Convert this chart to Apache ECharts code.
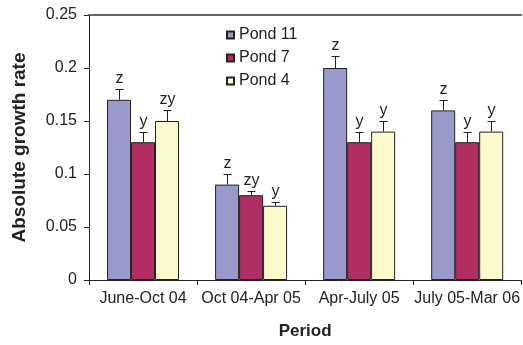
<!DOCTYPE html>
<html><head><meta charset="utf-8">
<script src="https://cdn.jsdelivr.net/npm/echarts@6/dist/echarts.min.js"></script>
<style>html,body{margin:0;padding:0;background:#fff}#c{width:523px;height:345px}</style>
</head><body><div id="c"></div>
<script>
const categories = ['June-Oct 04', 'Oct 04-Apr 05', 'Apr-July 05', 'July 05-Mar 06'];
const seriesNames = ['Pond 11', 'Pond 7', 'Pond 4'];
const pond11 = [0.17, 0.09, 0.20, 0.16];
const pond7 = [0.13, 0.08, 0.13, 0.13];
const pond4 = [0.15, 0.07, 0.14, 0.14];
const pond11Err = [0.01, 0.01, 0.011, 0.01];
const pond7Err = [0.01, 0.004, 0.01, 0.01];
const pond4Err = [0.01, 0.004, 0.01, 0.01];
const pond11Letters = ['z', 'z', 'z', 'z'];
const pond7Letters = ['y', 'zy', 'y', 'y'];
const pond4Letters = ['zy', 'y', 'y', 'y'];
const colors = ['#9999cc', '#b02e63', '#fcf9cd'];
const values = [pond11, pond7, pond4];
const errs = [pond11Err, pond7Err, pond4Err];
const letters = [pond11Letters, pond7Letters, pond4Letters];
const BW = 24;
const font = '"Liberation Sans", Arial, sans-serif';
const txt = '#222';

const chart = echarts.init(document.getElementById('c'));
const series = [];
values.forEach((v, i) => {
  series.push({
    name: seriesNames[i], type: 'bar', data: v, barWidth: BW, barGap: '0%',
    itemStyle: { color: colors[i], borderColor: '#222', borderWidth: 1 },
    animation: false
  });
});
values.forEach((v, i) => {
  series.push({
    type: 'custom', silent: true, animation: false, z: 10,
    data: v.map((val, k) => [k, val, errs[i][k]]),
    renderItem: (params, api) => {
      const k = api.value(0), val = api.value(1), e = api.value(2);
      const base = api.coord([k, val]);
      const top = api.coord([k, val + e]);
      const x = Math.round(base[0] + (i - 1) * BW) + 0.5;
      const ty = Math.round(top[1]) + 0.5;
      const cap = 4;
      return { type: 'group', children: [
        { type: 'line', shape: { x1: x, y1: base[1], x2: x, y2: ty }, style: { stroke: '#222', lineWidth: 1 } },
        { type: 'line', shape: { x1: x - cap, y1: ty, x2: x + cap, y2: ty }, style: { stroke: '#222', lineWidth: 1 } },
        { type: 'text', x: x, y: ty - 3, style: { text: letters[i][k], fill: txt, font: '16px ' + font, align: 'center', verticalAlign: 'bottom' } }
      ] };
    }
  });
});

chart.setOption({
  animation: false,
  grid: { left: 89, right: 1, top: 15, bottom: 60 },
  legend: {
    data: seriesNames, orient: 'vertical', left: 221, top: 22, itemWidth: 7, itemHeight: 7, itemGap: 7,
    icon: 'rect', textStyle: { fontSize: 16, lineHeight: 16, color: txt, fontFamily: font }
  },
  xAxis: [{
    type: 'category', data: categories,
    axisLine: { lineStyle: { color: '#222', width: 1 } },
    axisTick: { show: true, length: 5, lineStyle: { color: '#222' } },
    axisLabel: { interval: 0, fontSize: 16, color: txt, fontFamily: font, margin: 11 },
    name: 'Period', nameLocation: 'middle', nameGap: 43,
    nameTextStyle: { fontSize: 17, fontWeight: 'bold', color: txt, fontFamily: font }
  }, {
    type: 'category', position: 'top', data: categories,
    axisLine: { lineStyle: { color: '#666', width: 2 } },
    axisTick: { show: false }, axisLabel: { show: false }
  }],
  yAxis: {
    type: 'value', min: 0, max: 0.25, interval: 0.05,
    axisLine: { show: true, lineStyle: { color: '#222' } },
    axisTick: { show: true, length: 5, lineStyle: { color: '#222' } },
    splitLine: { show: false },
    axisLabel: { fontSize: 16, color: txt, fontFamily: font, margin: 12 },
    name: 'Absolute growth rate', nameLocation: 'middle', nameGap: 60,
    nameTextStyle: { fontSize: 19, fontWeight: 'bold', color: txt, fontFamily: font }
  },
  series: series
});
</script></body></html>
